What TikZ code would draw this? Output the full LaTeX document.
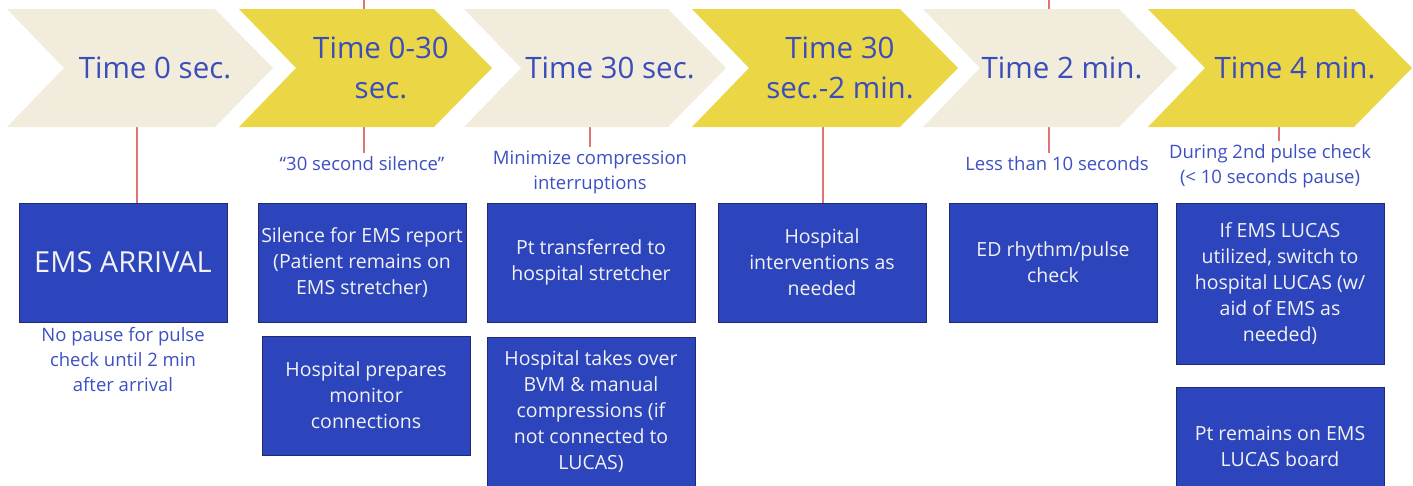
\documentclass[tikz,border=0pt]{standalone}
\usepackage{fontspec}
\setmainfont{Open Sans}
\usetikzlibrary{positioning}
\definecolor{beige}{HTML}{F1ECDB}
\definecolor{gold}{HTML}{EBD645}
\definecolor{timeblue}{HTML}{3B4DBA}
\definecolor{boxblue}{HTML}{2C45BD}
\definecolor{boxline}{HTML}{1F2B6E}
\definecolor{noteblue}{HTML}{3D50C3}
\definecolor{tickred}{HTML}{DE7474}

\begin{document}
\begin{tikzpicture}[x=1pt,y=-1pt]
\clip (0,0) rectangle (1413,485);
\tikzset{
  time/.style={text=timeblue, align=center, font=\fontsize{29.5}{40}\selectfont},
  stepbox/.style={draw=boxline, line width=1pt, fill=boxblue, text=white!95!black,
    minimum width=208, minimum height=119, inner sep=0pt, align=center,
    font=\fontsize{19.5}{26}\selectfont},
  note/.style={text=noteblue, align=center, font=\fontsize{18.5}{25}\selectfont},
  tick/.style={draw=tickred, line width=1.6pt}
}
%start points of the red lines
\coordinate (a1) at (137,127);
\coordinate (a2) at (364,0);
\coordinate (a3) at (590,127);
\coordinate (a4) at (823,127);
\coordinate (a5) at (1049,0);
\coordinate (a6) at (1279,127);
%boxes
\node[stepbox, font=\fontsize{29}{34}\selectfont] (b1) at (123,262.5) {EMS ARRIVAL};
\node[stepbox] (b2) at (362,262.5) {Silence for EMS report\\(Patient remains on\\EMS stretcher)};
\node[stepbox] (b3) at (366,395.5) {Hospital prepares\\monitor\\connections};
\node[stepbox] (b4) at (591,262.5) {Pt transferred to\\hospital stretcher};
\node[stepbox, minimum height=150] (b5) at (591,412) {Hospital takes over\\BVM \& manual\\compressions (if\\not connected to\\LUCAS)};
\node[stepbox] (b6) at (822,262.5) {Hospital\\interventions as\\needed};
\node[stepbox] (b7) at (1053,262.5) {ED rhythm/pulse\\check};
\node[stepbox, minimum height=161] (b8) at (1280,283.5) {If EMS LUCAS\\utilized, switch to\\hospital LUCAS (w/\\aid of EMS as\\needed)};
\node[stepbox] (b9) at (1280,446.5) {Pt remains on EMS\\LUCAS board};
%notes
\node[note] (n1) at (123,360) {No pause for pulse\\check until 2 min\\after arrival};
\node[note] (n2) at (362,164) {“30 second silence”};
\node[note] (n3) at (590,172.5) {Minimize compression\\interruptions};
\node[note] (n5) at (1057,164) {Less than 10 seconds};
\node[note] (n6) at (1270,166) {During 2nd pulse check\\(< 10 seconds pause)};
%red lines, behind the arrows
\draw[tick] (a1) -- (a1 |- b1.north);
\draw[tick] (a2) -- (a2 |- n2.north);
\draw[tick] (a3) -- (a3 |- n3.north);
\draw[tick] (a4) -- (a4 |- b6.north);
\draw[tick] (a5) -- (a5 |- n5.north);
\draw[tick] (a6) -- (a6 |- n6.north);
%arrows
\foreach \x/\w/\c in {7/208/beige, 239/195/gold, 464/204/beige, 692/208/gold, 923/196/beige, 1148/206/gold}
  \fill[\c] (\x,9) -- ++(\w,0) -- ++(58,59) -- ++(-58,59) -- ++(-\w,0) -- ++(57,-59) -- cycle;
\node[time] (t1) at (155,68) {Time 0 sec.};
\node[time] (t2) at (381,68) {Time 0-30\\sec.};
\node[time] (t3) at (610,68) {Time 30 sec.};
\node[time] (t4) at (840,68) {Time 30\\sec.-2 min.};
\node[time] (t5) at (1062,68) {Time 2 min.};
\node[time] (t6) at (1295,68) {Time 4 min.};
\end{tikzpicture}
\end{document}
